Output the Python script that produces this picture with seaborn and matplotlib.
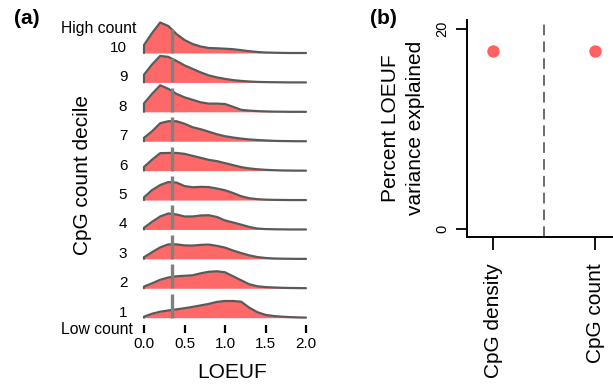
import numpy as np
import pandas as pd
import matplotlib
matplotlib.use("Agg")
import matplotlib.pyplot as plt
import seaborn as sns

# ---------------- data ----------------
loeuf_grid = [0.0, 0.1, 0.2, 0.3, 0.4, 0.5, 0.6, 0.7, 0.8, 0.9, 1.0,
              1.1, 1.2, 1.3, 1.4, 1.5, 1.6, 1.7, 1.8, 1.9, 2.0]
# ridge heights (relative density) per CpG count decile
dens_d10 = [8.0, 20.0, 30.5, 27.0, 19.0, 13.0, 9.0, 6.5, 5.0, 4.7, 4.3, 3.8, 2.8, 1.8, 1.0, 0.5, 0.3, 0.1, 0.0, 0.0, 0.0]
dens_d9 = [7.7, 18.0, 26.5, 25.5, 21.5, 17.0, 13.5, 10.0, 7.0, 5.0, 3.5, 2.3, 1.5, 0.9, 0.5, 0.3, 0.2, 0.1, 0.0, 0.0, 0.0]
dens_d8 = [8.4, 18.0, 26.5, 23.0, 18.0, 14.5, 12.0, 9.5, 8.2, 8.2, 7.8, 5.0, 2.0, 1.2, 0.7, 0.4, 0.2, 0.1, 0.0, 0.0, 0.0]
dens_d7 = [3.4, 10.0, 18.0, 20.0, 20.0, 17.5, 14.0, 12.0, 9.5, 7.0, 5.0, 3.7, 2.6, 1.8, 1.2, 0.8, 0.4, 0.2, 0.1, 0.0, 0.0]
dens_d6 = [3.7, 11.0, 17.5, 17.7, 17.7, 16.8, 14.8, 12.8, 10.8, 9.5, 7.5, 5.5, 3.5, 2.2, 1.4, 0.8, 0.5, 0.2, 0.1, 0.0, 0.0]
dens_d5 = [2.7, 10.0, 15.0, 18.0, 17.5, 14.0, 12.8, 13.2, 13.0, 11.5, 9.8, 7.0, 3.8, 1.8, 0.9, 0.4, 0.2, 0.1, 0.0, 0.0, 0.0]
dens_d4 = [1.7, 7.7, 13.0, 16.0, 15.0, 13.0, 13.0, 14.0, 14.2, 12.5, 9.0, 7.0, 4.8, 2.5, 0.9, 0.4, 0.2, 0.1, 0.0, 0.0, 0.0]
dens_d3 = [1.7, 6.7, 11.5, 14.5, 14.5, 13.5, 13.3, 14.0, 14.3, 13.0, 11.3, 8.3, 5.8, 3.5, 1.8, 0.9, 0.4, 0.2, 0.1, 0.0, 0.0]
dens_d2 = [1.7, 5.0, 8.5, 10.8, 12.0, 12.5, 13.0, 15.0, 16.5, 17.0, 16.0, 12.0, 8.0, 4.0, 2.0, 1.2, 0.8, 0.5, 0.3, 0.2, 0.1]
dens_d1 = [1.0, 4.0, 6.0, 7.2, 8.3, 9.5, 10.8, 12.3, 13.8, 15.8, 16.7, 16.7, 16.0, 10.0, 5.5, 2.8, 1.7, 1.0, 0.6, 0.3, 0.1]
deciles = [1, 2, 3, 4, 5, 6, 7, 8, 9, 10]
densities = [dens_d1, dens_d2, dens_d3, dens_d4, dens_d5,
             dens_d6, dens_d7, dens_d8, dens_d9, dens_d10]
median_loeuf = 0.35
x_ticks_a = [0.0, 0.5, 1.0, 1.5, 2.0]
x_ticklabels_a = ["0.0", "0.5", "1.0", "1.5", "2.0"]

predictors = ["CpG density", "CpG count"]
pct_variance = [17.8, 17.8]
y_ticks_b = [0, 20]

# ---------------- style ----------------
sns.set_style("ticks")
plt.rcParams["font.family"] = ["Liberation Sans", "DejaVu Sans"]
plt.rcParams["text.color"] = "black"
plt.rcParams["xtick.color"] = "black"
plt.rcParams["ytick.color"] = "black"
plt.rcParams["xtick.labelcolor"] = "black"
plt.rcParams["ytick.labelcolor"] = "black"

W, H = 613, 387
fig = plt.figure(figsize=(W / 100, H / 100), dpi=100)


def fx(px):
    return px / W


def fy(py):
    return 1 - py / H


# ---------------- panel (a) ----------------
spacing_px = (317.7 - 53.0) / 9.0
axa = fig.add_axes([fx(140), fy(325), (310 - 140) / W, (325 - 20) / H])
fill_col = "#FF6868"
line_col = "#5a5a5a"

for k, dens in zip(deciles[::-1], densities[::-1]):
    z = 20 - k
    heights = np.array(dens) / spacing_px
    yy = k + heights
    axa.fill_between(loeuf_grid, k, yy, color=fill_col, lw=0, zorder=z * 3)
    df = pd.DataFrame({"loeuf": [loeuf_grid[0]] + list(loeuf_grid),
                       "y": [k] + list(yy)})
    sns.lineplot(data=df, x="loeuf", y="y", sort=False, estimator=None,
                 color=line_col, lw=1.6, ax=axa, zorder=z * 3 + 1)
    axa.plot([median_loeuf, median_loeuf], [k, k + 24 / spacing_px],
             color="#808080", lw=2.4, solid_capstyle="butt", zorder=z * 3 + 2)

axa.set_xlim((140 - 144) / 81, (310 - 144) / 81)
axa.set_ylim(1 - (325 - 317.7) / spacing_px, 10 + (53 - 20) / spacing_px)
for s in axa.spines.values():
    s.set_visible(False)
axa.set_yticks([])
axa.set_xticks(x_ticks_a)
axa.set_xticklabels(x_ticklabels_a, fontsize=11)
axa.tick_params(axis="x", length=6, width=1.6, color="black", pad=3)
axa.set_xlabel("")
axa.set_ylabel("")

for k in deciles:
    axa.text(-0.075, k + 5 / spacing_px, str(k), ha="right", va="center",
             fontsize=11, transform=axa.get_yaxis_transform())
fig.text(fx(136), fy(28), "High count", ha="right", va="center", fontsize=11.3)
fig.text(fx(133), fy(330), "Low count", ha="right", va="center", fontsize=11.3)
fig.text(fx(232), fy(373), "LOEUF", ha="center", va="center", fontsize=15)
fig.text(fx(82), fy(175), "CpG count decile", ha="center", va="center",
         rotation=90, fontsize=15)
fig.text(fx(27), fy(19), "(a)", ha="center", va="center", fontsize=15,
         fontweight="bold")

# ---------------- panel (b) ----------------
axb = fig.add_axes([fx(467), fy(237), (W - 467) / W, (237 - 20) / H])
dfb = pd.DataFrame({"predictor": predictors, "pct": pct_variance})
sns.scatterplot(data=dfb, x="predictor", y="pct", color="#FF4F4F", s=80,
                linewidth=0, alpha=0.9, ax=axb, zorder=3)
axb.axvline(0.5, color="#444444", lw=1.1, dashes=(7, 4), zorder=2)
axb.set_xlim(-0.255, 1.176)
axb.set_ylim(-0.8, 20.9)
axb.set_yticks(y_ticks_b)
axb.set_yticklabels([str(v) for v in y_ticks_b], rotation=90, va="center",
                    fontsize=10.5)
axb.set_xticks([0, 1])
axb.set_xticklabels(predictors, rotation=90, fontsize=15, va="top",
                    ha="center")
axb.tick_params(axis="y", length=8, width=1.3, pad=5)
axb.tick_params(axis="x", length=9, width=1.3, pad=10)
for side in ["top", "right"]:
    axb.spines[side].set_visible(False)
for side in ["left", "bottom"]:
    axb.spines[side].set_linewidth(1.4)
    axb.spines[side].set_color("black")
axb.set_xlabel("")
axb.set_ylabel("")
fig.text(fx(403), fy(128), "Percent LOEUF\nvariance explained", ha="center",
         va="center", rotation=90, fontsize=15, multialignment="center",
         linespacing=1.4)
fig.text(fx(383), fy(19), "(b)", ha="center", va="center", fontsize=15,
         fontweight="bold")

fig.savefig("out.png", dpi=100)
